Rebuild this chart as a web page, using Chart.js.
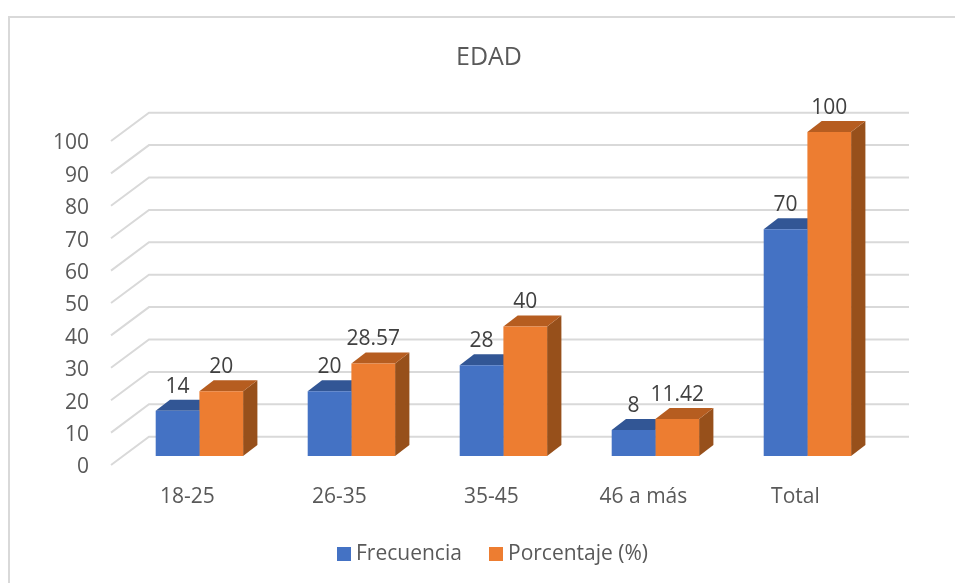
<!DOCTYPE html>
<html>
<head>
<meta charset="utf-8">
<script src="https://cdn.jsdelivr.net/npm/chart.js@4"></script>
<style>
  html, body { margin: 0; padding: 0; background: #fff; overflow: hidden; }
  #frame { position: absolute; left: 8px; top: 16px; right: 0; bottom: 0; border-left: 2px solid #d9d9d9; border-top: 2px solid #d9d9d9; }
  #wrap { position: absolute; left: 0; top: 0; width: 955px; height: 583px; }
  canvas { display: block; }
</style>
</head>
<body>
<div id="frame"></div>
<div id="wrap"><canvas id="edad" width="955" height="583"></canvas></div>
<script>
const categories = ['18-25', '26-35', '35-45', '46 a más', 'Total'];
const frecuencia = [14, 20, 28, 8, 70];
const porcentaje = [20, 28.57, 40, 11.42, 100];
const yTicks = [0, 10, 20, 30, 40, 50, 60, 70, 80, 90, 100];

const FONT = '"Open Sans", sans-serif';
const GREY = '#595959';
const TOP_COLORS = ['#325695', '#b65d20'];
const SIDE_COLORS = ['#2a4a80', '#97501b'];

// depth of the fake 3D: bars vs. the walls behind them
const barDepth = { x: 14.3, y: 11 };
const wallFront = { x: -12.4, y: 9 };
const wallBack = { x: 25.6, y: -19.3 };

const face = (ctx, pts, color) => {
  ctx.beginPath();
  pts.forEach((p, i) => i ? ctx.lineTo(p[0], p[1]) : ctx.moveTo(p[0], p[1]));
  ctx.closePath();
  ctx.fillStyle = color;
  ctx.fill();
};

const fake3d = {
  id: 'fake3d',
  afterLayout(chart) {
    // title sits right of the canvas centre in the original
    chart.titleBlock.left += 47.3;
    chart.titleBlock.right += 47.3;
  },
  beforeDatasetsDraw(chart) {
    const { ctx, scales: { x, y } } = chart;
    ctx.save();
    // walls
    ctx.strokeStyle = '#d9d9d9';
    ctx.lineWidth = 2;
    yTicks.forEach(v => {
      const py = y.getPixelForValue(v);
      ctx.beginPath();
      ctx.moveTo(x.left + wallFront.x, py + wallFront.y);
      ctx.lineTo(x.left + wallBack.x, py + wallBack.y);
      ctx.lineTo(x.right + wallBack.x, py + wallBack.y);
      ctx.stroke();
    });
    // top and side faces, the library paints the fronts over them
    chart.data.datasets.forEach((ds, d) => {
      chart.getDatasetMeta(d).data.forEach(bar => {
        const l = bar.x - bar.width / 2, r = bar.x + bar.width / 2;
        const dx = barDepth.x, dy = barDepth.y;
        face(ctx, [[r, bar.y], [r + dx, bar.y - dy], [r + dx, bar.base - dy], [r, bar.base]], SIDE_COLORS[d]);
        face(ctx, [[l, bar.y], [l + dx, bar.y - dy], [r + dx, bar.y - dy], [r, bar.y]], TOP_COLORS[d]);
      });
    });
    ctx.restore();
  },
  afterDatasetsDraw(chart) {
    const { ctx } = chart;
    ctx.save();
    ctx.font = '21px ' + FONT;
    ctx.fillStyle = '#404040';
    ctx.textAlign = 'center';
    ctx.textBaseline = 'middle';
    // data labels
    chart.data.datasets.forEach((ds, d) => {
      chart.getDatasetMeta(d).data.forEach((bar, i) => {
        ctx.fillText(String(ds.data[i]), bar.x, bar.y - 24);
      });
    });
    // legend
    ctx.textAlign = 'left';
    const legendX = [337, 489];
    chart.data.datasets.forEach((ds, d) => {
      ctx.fillStyle = ds.backgroundColor;
      ctx.fillRect(legendX[d], 547, 14, 14);
      ctx.fillStyle = GREY;
      ctx.fillText(ds.label, legendX[d] + 19, 554);
    });
    ctx.restore();
  }
};

new Chart(document.getElementById('edad'), {
  type: 'bar',
  data: {
    labels: categories,
    datasets: [
      { label: 'Frecuencia', data: frecuencia, backgroundColor: '#4472c4' },
      { label: 'Porcentaje (%)', data: porcentaje, backgroundColor: '#ed7d31' }
    ]
  },
  options: {
    responsive: false,
    animation: false,
    devicePixelRatio: 1,
    layout: { padding: { left: 0, right: 71.6, top: 0, bottom: 0 } },
    plugins: {
      legend: { display: false },
      tooltip: { enabled: false },
      title: {
        display: true,
        text: 'EDAD',
        color: GREY,
        font: { family: FONT, size: 25, weight: 'normal' },
        padding: { top: 43, bottom: 59 }
      }
    },
    scales: {
      x: {
        grid: { display: false, drawTicks: false },
        border: { display: false },
        afterFit: s => { s.height = 127; },
        ticks: { color: GREY, font: { family: FONT, size: 21 }, padding: 28.5, labelOffset: -12, maxRotation: 0 }
      },
      y: {
        min: 0,
        max: 100,
        afterFit: s => { s.width = 123.4; },
        afterBuildTicks: s => { s.ticks = yTicks.map(v => ({ value: v })); },
        grid: { display: false, drawTicks: false },
        border: { display: false },
        ticks: { color: GREY, font: { family: FONT, size: 21 }, padding: 34.4, labelOffset: 11.5 }
      }
    },
    datasets: { bar: { barPercentage: 1, categoryPercentage: 0.575 } }
  },
  plugins: [fake3d]
});
</script>
</body>
</html>
